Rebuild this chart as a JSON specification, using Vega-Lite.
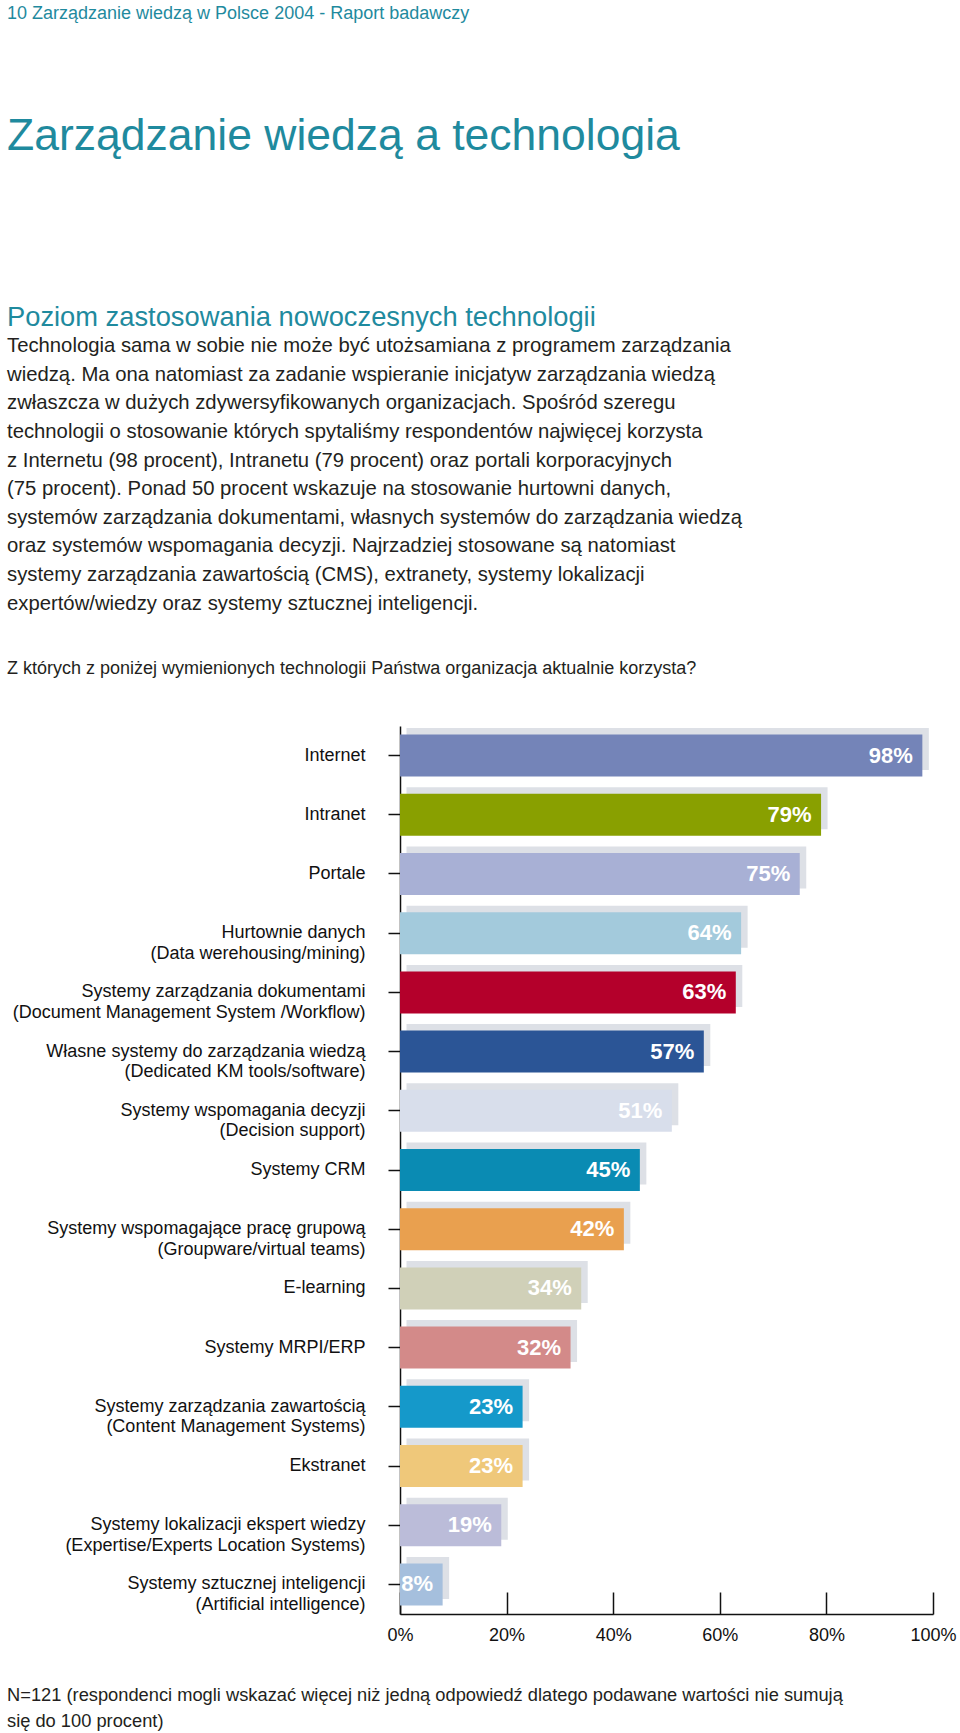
{
  "$schema": "https://vega.github.io/schema/vega-lite/v6.json",
  "background": "white",
  "padding": {"left": 7, "top": 5, "right": 0, "bottom": 0},
  "autosize": {"type": "pad"},
  "spacing": 0,
  "bounds": "full",
  "config": {
    "view": {"stroke": null},
    "font": "Liberation Sans",
    "title": {"anchor": "start", "frame": "group", "offset": 0, "dx": -393, "fontWeight": "normal", "subtitleFontWeight": "normal", "font": "Liberation Sans", "subtitleFont": "Liberation Sans"}
  },
  "vconcat": [
    {
      "data": {"values": []},
      "mark": "point",
      "width": 500,
      "height": 141,
      "title": {
        "text": "10  Zarządzanie wiedzą w Polsce 2004 - Raport badawczy",
        "fontSize": 18,
        "color": "#1f8a9e",
        "subtitle": "Zarządzanie wiedzą a technologia",
        "subtitleFontSize": 44.5,
        "subtitleColor": "#1f8a9e",
        "subtitlePadding": 91.5
      }
    },
    {
      "data": {"values": []},
      "mark": "point",
      "width": 500,
      "height": 42,
      "title": {
        "text": "Poziom zastosowania nowoczesnych technologii",
        "fontSize": 27.3,
        "color": "#1f8a9e",
        "subtitle": [
          "Technologia sama w sobie nie może być utożsamiana z programem zarządzania",
          "wiedzą. Ma ona natomiast za zadanie wspieranie inicjatyw zarządzania wiedzą",
          "zwłaszcza w dużych zdywersyfikowanych organizacjach. Spośród szeregu",
          "technologii o stosowanie których spytaliśmy respondentów najwięcej korzysta",
          "z Internetu (98 procent), Intranetu (79 procent) oraz portali korporacyjnych",
          "(75 procent). Ponad 50 procent wskazuje na stosowanie hurtowni danych,",
          "systemów zarządzania dokumentami, własnych systemów do zarządzania wiedzą",
          "oraz systemów wspomagania decyzji. Najrzadziej stosowane są natomiast",
          "systemy zarządzania zawartością (CMS), extranety, systemy lokalizacji",
          "expertów/wiedzy oraz systemy sztucznej inteligencji."
        ],
        "subtitleFontSize": 20.3,
        "subtitleColor": "#231f20",
        "subtitleLineHeight": 28.6,
        "subtitlePadding": 5
      }
    },
    {
      "data": {"values": []},
      "mark": "point",
      "width": 500,
      "height": 44,
      "title": {
        "text": "Z których z poniżej wymienionych technologii Państwa organizacja aktualnie korzysta?",
        "fontSize": 18,
        "color": "#231f20"
      }
    },
    {
      "width": 533,
      "height": 888,
      "data": {
        "values": [
          {"tech": "Internet", "pct": 98},
          {"tech": "Intranet", "pct": 79},
          {"tech": "Portale", "pct": 75},
          {"tech": "Hurtownie danych (Data werehousing/mining)", "pct": 64},
          {"tech": "Systemy zarządzania dokumentami (Document Management System /Workflow)", "pct": 63},
          {"tech": "Własne systemy do zarządzania wiedzą (Dedicated KM tools/software)", "pct": 57},
          {"tech": "Systemy wspomagania decyzji (Decision support)", "pct": 51},
          {"tech": "Systemy CRM", "pct": 45},
          {"tech": "Systemy wspomagające pracę grupową (Groupware/virtual teams)", "pct": 42},
          {"tech": "E-learning", "pct": 34},
          {"tech": "Systemy MRPI/ERP", "pct": 32},
          {"tech": "Systemy zarządzania zawartością (Content Management Systems)", "pct": 23},
          {"tech": "Ekstranet", "pct": 23},
          {"tech": "Systemy lokalizacji ekspert wiedzy (Expertise/Experts Location Systems)", "pct": 19},
          {"tech": "Systemy sztucznej inteligencji (Artificial intelligence)", "pct": 8}
        ]
      },
      "transform": [{"calculate": "datum.pct + '%'", "as": "label"}],
      "encoding": {
        "y": {
          "field": "tech",
          "type": "nominal",
          "sort": null,
          "scale": {"paddingInner": 0.29, "paddingOuter": 0.145},
          "axis": {
            "title": null,
            "domainColor": "#111111",
            "domainWidth": 1.5,
            "tickColor": "#111111",
            "tickWidth": 1.5,
            "tickSize": 12,
            "labelPadding": 23,
            "labelFont": "Liberation Sans",
            "labelFontSize": 18,
            "labelColor": "#111111",
            "labelLineHeight": 20.5,
            "labelLimit": 0,
            "labelBaseline": "middle",
            "labelExpr": "indexof(datum.label, ' (') > 0 ? [substring(datum.label, 0, indexof(datum.label, ' (')), substring(datum.label, indexof(datum.label, ' (') + 1)] : datum.label"
          }
        }
      },
      "layer": [
        {
          "mark": {"type": "bar", "color": "#dde0e6", "xOffset": 6.5, "x2Offset": 6.5, "yOffset": -6.5, "y2Offset": -6.5},
          "encoding": {
            "x": {
              "field": "pct",
              "type": "quantitative",
              "scale": {"domain": [0, 100]},
              "axis": {
                "title": null,
                "values": [0, 20, 40, 60, 80, 100],
                "labelExpr": "datum.value + '%'",
                "grid": false,
                "tickSize": -22,
                "tickColor": "#111111",
                "tickWidth": 1.5,
                "domainColor": "#111111",
                "domainWidth": 1.5,
                "labelPadding": 34,
                "labelFont": "Liberation Sans",
                "labelFontSize": 18,
                "labelColor": "#111111",
                "labelFlush": false
              }
            }
          }
        },
        {
          "mark": {"type": "bar"},
          "encoding": {
            "x": {"field": "pct", "type": "quantitative"},
            "color": {
              "field": "tech",
              "type": "nominal",
              "legend": null,
              "scale": {
                "domain": [
                  "Internet", "Intranet", "Portale",
                  "Hurtownie danych (Data werehousing/mining)",
                  "Systemy zarządzania dokumentami (Document Management System /Workflow)",
                  "Własne systemy do zarządzania wiedzą (Dedicated KM tools/software)",
                  "Systemy wspomagania decyzji (Decision support)",
                  "Systemy CRM",
                  "Systemy wspomagające pracę grupową (Groupware/virtual teams)",
                  "E-learning", "Systemy MRPI/ERP",
                  "Systemy zarządzania zawartością (Content Management Systems)",
                  "Ekstranet",
                  "Systemy lokalizacji ekspert wiedzy (Expertise/Experts Location Systems)",
                  "Systemy sztucznej inteligencji (Artificial intelligence)"
                ],
                "range": ["#7484b8", "#89a000", "#a8b0d5", "#a3cadc", "#b4002b", "#2b5596", "#d8deeb", "#0a8bb3", "#e9a04f", "#d0d0b8", "#d38a89", "#1599ca", "#efc87a", "#bbbcd9", "#a5bfdd"]
              }
            }
          }
        },
        {
          "mark": {"type": "text", "align": "right", "baseline": "middle", "dx": -9.5, "color": "white", "font": "Liberation Sans", "fontWeight": "bold", "fontSize": 22},
          "encoding": {
            "x": {"field": "pct", "type": "quantitative"},
            "text": {"field": "label"}
          }
        }
      ]
    },
    {
      "data": {"values": []},
      "mark": "point",
      "width": 500,
      "height": 39,
      "title": {
        "text": [
          "N=121 (respondenci mogli wskazać więcej niż jedną odpowiedź dlatego podawane wartości nie sumują",
          "się do 100 procent)"
        ],
        "orient": "bottom",
        "fontSize": 18.3,
        "lineHeight": 26,
        "color": "#231f20"
      }
    }
  ]
}
